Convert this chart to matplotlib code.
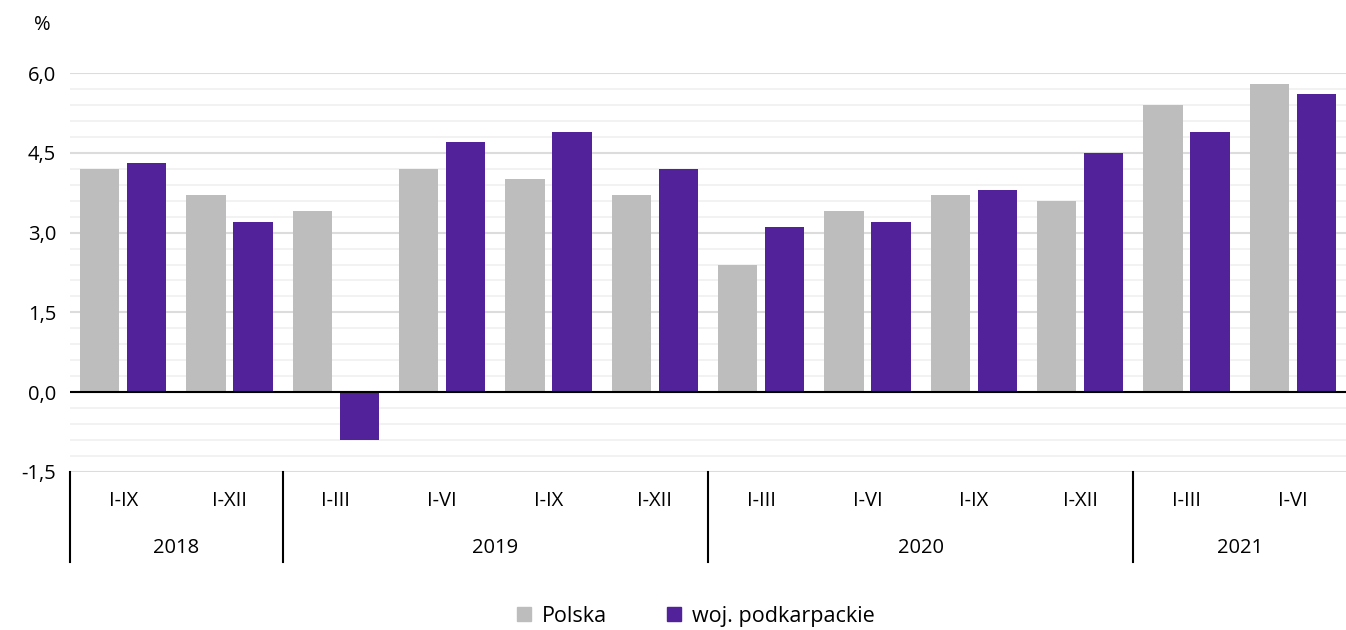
import numpy as np
import matplotlib.pyplot as plt
from matplotlib.patches import Patch

plt.rcParams['font.family'] = ['Open Sans', 'DejaVu Sans']

okresy = ['I-IX', 'I-XII', 'I-III', 'I-VI', 'I-IX', 'I-XII',
          'I-III', 'I-VI', 'I-IX', 'I-XII', 'I-III', 'I-VI']
lata = ['2018', '2019', '2020', '2021']
liczba_okresow = [2, 4, 4, 2]
polska = [4.2, 3.7, 3.4, 4.2, 4.0, 3.7, 2.4, 3.4, 3.7, 3.6, 5.4, 5.8]
podkarpackie = [4.3, 3.2, -0.9, 4.7, 4.9, 4.2, 3.1, 3.2, 3.8, 4.5, 4.9, 5.6]

szary = '#bdbdbd'
fiolet = '#51229a'
fs = 14.5

fig = plt.figure(figsize=(13.46, 6.3), dpi=100)
ax = fig.add_axes([70 / 1346, 1 - 472 / 630, 1 - 70 / 1346, (472 - 73) / 630])

x = np.arange(len(okresy))
szer = 0.37
ax.bar(x - 0.22, polska, szer, color=szary, zorder=3)
ax.bar(x + 0.22, podkarpackie, szer, color=fiolet, zorder=3)

ax.set_xlim(-0.5, len(okresy) - 0.5)
ax.set_ylim(-1.5, 6.0)
ax.set_yticks(np.arange(-1.5, 6.01, 1.5))
ax.set_yticklabels([f"{v:.1f}".replace('.', ',') for v in np.arange(-1.5, 6.01, 1.5)], fontsize=fs)
ax.set_yticks(np.arange(-1.5, 6.01, 0.3), minor=True)
ax.tick_params(axis='y', which='both', length=0, pad=10)
ax.tick_params(axis='x', which='both', length=0, labelbottom=False)
ax.grid(axis='y', which='minor', color='#f0f0f0', linewidth=1.2, zorder=0)
ax.grid(axis='y', which='major', color='#dcdcdc', linewidth=1.5, zorder=0)
ax.axhline(0, color='black', linewidth=1.5, zorder=4)
for s in ['top', 'right', 'left', 'bottom']:
    ax.spines[s].set_visible(False)

ax.text(-0.022, 1.12, '%', transform=ax.transAxes, fontsize=fs, ha='center', va='center')

# etykiety okresow i lat
tr = ax.get_xaxis_transform()
for i, lab in enumerate(okresy):
    ax.text(i, -0.072, lab, transform=tr, ha='center', va='center', fontsize=fs)
start = 0
granice = [0]
for rok, n in zip(lata, liczba_okresow):
    ax.text(start + (n - 1) / 2, -0.19, rok, transform=tr, ha='center', va='center', fontsize=fs)
    start += n
    granice.append(start)
for g in granice[:-1]:
    ax.plot([g - 0.5, g - 0.5], [0, -0.226], transform=tr, color='black', linewidth=1.5, clip_on=False)

uchwyty = [Patch(color=szary, label='Polska'), Patch(color=fiolet, label='woj. podkarpackie')]
fig.legend(handles=uchwyty, loc='center', bbox_to_anchor=(0.517, 0.022), ncol=2, frameon=False,
           fontsize=15.5, handlelength=0.65, handleheight=0.65, handletextpad=0.5, columnspacing=2.8)

fig.savefig('out.png', dpi=100)
